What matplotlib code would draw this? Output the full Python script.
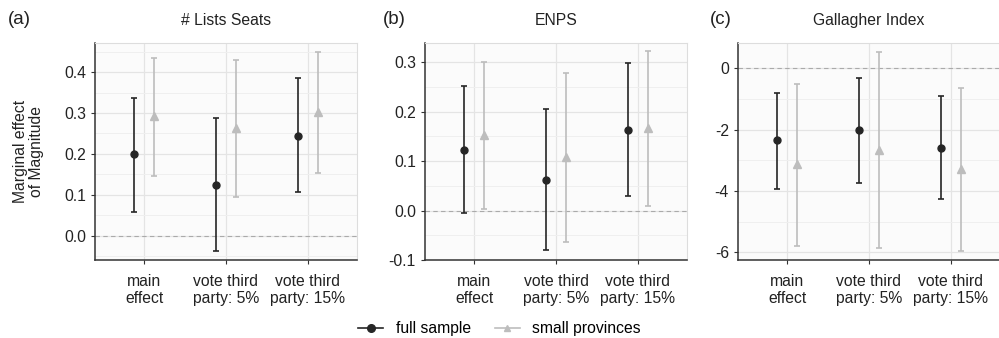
import numpy as np
import matplotlib.pyplot as plt
from matplotlib.lines import Line2D

plt.rcParams['font.family'] = ['Liberation Sans', 'DejaVu Sans']

categories = ['main\neffect', 'vote third\nparty: 5%', 'vote third\nparty: 15%']
titles = ['# Lists Seats', 'ENPS', 'Gallagher Index']
panel_tags = ['(a)', '(b)', '(c)']

# estimate, lower, upper per panel
full_est = [[0.199, 0.124, 0.245], [0.123, 0.062, 0.163], [-2.35, -2.02, -2.59]]
full_lo = [[0.059, -0.036, 0.107], [-0.004, -0.080, 0.029], [-3.93, -3.73, -4.25]]
full_hi = [[0.336, 0.287, 0.385], [0.251, 0.206, 0.299], [-0.81, -0.30, -0.89]]

small_est = [[0.293, 0.263, 0.302], [0.153, 0.109, 0.167], [-3.12, -2.66, -3.29]]
small_lo = [[0.147, 0.096, 0.153], [0.003, -0.063, 0.010], [-5.78, -5.87, -5.95]]
small_hi = [[0.435, 0.429, 0.450], [0.301, 0.278, 0.322], [-0.51, 0.54, -0.65]]

ylims = [(-0.059, 0.471), (-0.1, 0.339), (-6.25, 0.826)]
yticks = [[0.0, 0.1, 0.2, 0.3, 0.4], [-0.1, 0.0, 0.1, 0.2, 0.3], [-6, -4, -2, 0]]
ytlabels = [['0.0', '0.1', '0.2', '0.3', '0.4'], ['-0.1', '0.0', '0.1', '0.2', '0.3'], ['-6', '-4', '-2', '0']]
yminor = [np.arange(-0.05, 0.5, 0.1), np.arange(-0.05, 0.34, 0.1), np.arange(-5, 1, 2)]

dark = '#262626'
light = '#bdbdbd'
fs = 11.3

fig = plt.figure(figsize=(9.99, 3.38), dpi=100)
W, H = 999, 338
lefts = [95, 425, 738]
tag_x = [8, 383, 710]
width = 262
top, bottom = 43, 260

x = np.arange(1, 4)
d = 0.125
for i in range(3):
    ax = fig.add_axes([lefts[i] / W, 1 - bottom / H, width / W, (bottom - top) / H])
    ax.set_facecolor('#fbfbfb')
    ax.set_xlim(0.4, 3.6)
    ax.set_ylim(*ylims[i])
    ax.set_yticks(yticks[i])
    ax.set_yticklabels(ytlabels[i])
    ax.set_yticks(yminor[i], minor=True)
    ax.set_xticks(x)
    ax.set_xticklabels(categories, linespacing=1.2)
    ax.grid(True, which='major', color='#e4e4e4', lw=0.9)
    ax.grid(True, which='minor', axis='y', color='#efefef', lw=0.7)
    ax.set_axisbelow(True)
    ax.axhline(0, color='#aaaaaa', lw=0.8, ls=(0, (4, 3)), zorder=1)

    fe = np.array(full_est[i])
    ax.errorbar(x - d, fe, yerr=[fe - np.array(full_lo[i]), np.array(full_hi[i]) - fe],
                fmt='o', color=dark, ms=5, capsize=2.5, elinewidth=1.2, capthick=1.2, zorder=3)
    se = np.array(small_est[i])
    ax.errorbar(x + d, se, yerr=[se - np.array(small_lo[i]), np.array(small_hi[i]) - se],
                fmt='^', color=light, ms=5.5, capsize=2.5, elinewidth=1.2, capthick=1.2, zorder=3)

    for s in ['top', 'right']:
        ax.spines[s].set_color('#dddddd')
        ax.spines[s].set_linewidth(0.8)
    for s in ['left', 'bottom']:
        ax.spines[s].set_color('#333333')
        ax.spines[s].set_linewidth(1.1)
    ax.tick_params(which='major', length=3, width=0.8, color='#333333', labelsize=fs,
                   labelcolor='#222222')
    ax.tick_params(which='minor', length=0)
    ax.tick_params(axis='x', pad=7)
    ax.set_title(titles[i], fontsize=fs, pad=13, color='#222222')
    if i == 0:
        ax.set_ylabel('Marginal effect\nof Magnitude', fontsize=fs, color='#222222', linespacing=1.1)
        ax.yaxis.set_label_coords(-0.195, 0.5)

    fig.text(tag_x[i] / W, 1 - 20 / H, panel_tags[i], fontsize=13.5, va='center', ha='left',
             color='#222222')

handles = [Line2D([], [], color=dark, marker='o', ms=5.5, lw=1.2),
           Line2D([], [], color=light, marker='^', ms=5, lw=1.2)]
fig.legend(handles, ['full sample', 'small provinces'], loc='center',
           bbox_to_anchor=(0.5, 1 - 329 / H), ncol=2, frameon=False,
           fontsize=fs, handlelength=1.6, columnspacing=1.5, handletextpad=0.8)

fig.savefig('out.png', dpi=100)
